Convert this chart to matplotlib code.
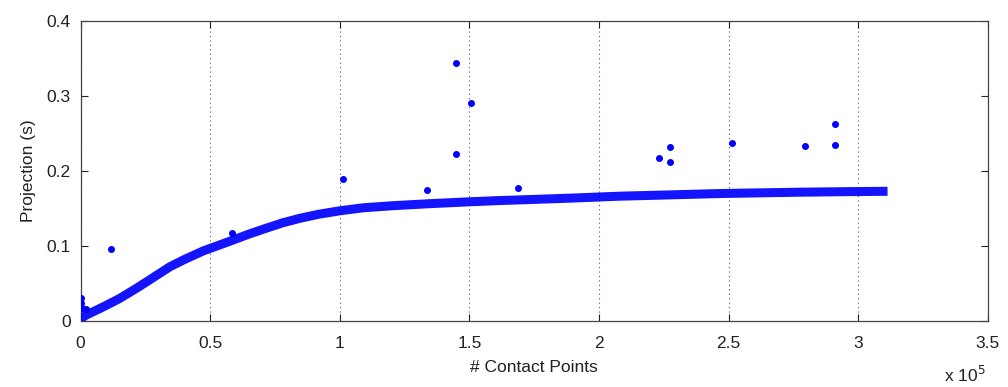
import matplotlib
matplotlib.use("Agg")
import matplotlib.pyplot as plt
from matplotlib.ticker import FuncFormatter

plt.rcParams['font.family'] = ['Liberation Sans', 'DejaVu Sans']

curve_x = [0, 1100, 2200, 4600, 8800, 15000, 21700, 28000, 34500, 40000, 47300,
           52500, 58800, 65000, 71800, 78000, 84600, 92000, 100000, 109000,
           120000, 134700, 150000, 160400, 173300, 190000, 208000, 225000,
           246500, 260000, 277400, 295000, 311300]
curve_y = [0.002, 0.0057, 0.008, 0.012, 0.019, 0.030, 0.044, 0.058, 0.0725,
           0.0820, 0.0935, 0.100, 0.108, 0.116, 0.1240, 0.131, 0.137, 0.1425,
           0.147, 0.151, 0.1537, 0.1565, 0.159, 0.1605, 0.162, 0.164, 0.1665,
           0.168, 0.170, 0.1708, 0.1718, 0.1725, 0.173]

# Isolated outlier points
out_x = [0, 200, 400, 2000, 11900, 58300, 101100, 133500, 145000, 145000,
         150500, 168800, 223100, 227500, 227500, 251300, 279400, 291000, 291000]
out_y = [0.031, 0.024, 0.018, 0.016, 0.0964, 0.118, 0.189, 0.1747, 0.3444,
         0.2227, 0.291, 0.1777, 0.217, 0.2324, 0.2124, 0.2378, 0.2333, 0.2342,
         0.263]

x_ticks = [0, 50000, 100000, 150000, 200000, 250000, 300000, 350000]
y_ticks = [0, 0.1, 0.2, 0.3, 0.4]

fig = plt.figure(figsize=(10.08, 3.87), dpi=100)
ax = fig.add_axes([0.080, 0.1705, 0.900, 0.775])

blue = '#0000ff'
ax.plot(curve_x, curve_y, color=blue, lw=6.5, solid_capstyle='butt',
        solid_joinstyle='round', alpha=0.92, zorder=3)
ax.plot(out_x, out_y, linestyle='none', marker='.', ms=8, color=blue, zorder=4)

ax.set_xlim(0, 350000)
ax.set_ylim(0, 0.4)
ax.set_xticks(x_ticks)
ax.set_yticks(y_ticks)
ax.xaxis.set_major_formatter(FuncFormatter(lambda v, p: f"{v/1e5:g}"))
ax.yaxis.set_major_formatter(FuncFormatter(lambda v, p: f"{v:g}"))

ax.grid(axis='x', linestyle=(0, (1, 3)), color='#555555', lw=0.8)
ax.tick_params(direction='in', length=5, width=0.8, top=True, right=True,
               labelsize=12.5, colors='#222222')
ax.tick_params(axis='x', pad=11)
ax.tick_params(axis='y', pad=7)
for s in ax.spines.values():
    s.set_color('#444444')
    s.set_linewidth(0.9)

ax.set_xlabel('# Contact Points', fontsize=12.5, labelpad=6, color='#222222')
ax.set_ylabel('Projection (s)', fontsize=12.5, labelpad=8, color='#222222')
fig.text(0.937, 0.012, r'x 10$^5$', fontsize=12.5, color='#222222')

fig.savefig('out.png', dpi=100)
